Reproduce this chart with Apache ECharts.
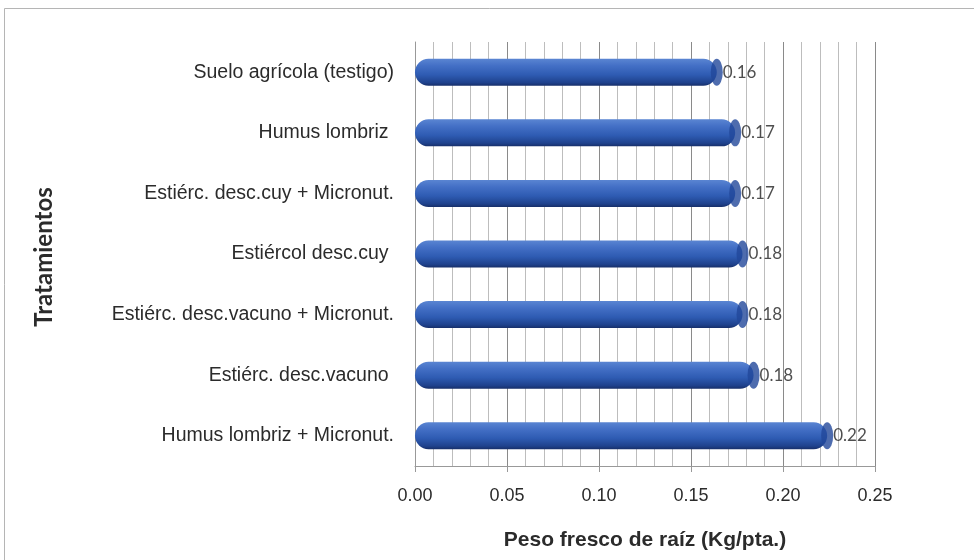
<!DOCTYPE html>
<html>
<head>
<meta charset="utf-8">
<script src="https://cdn.jsdelivr.net/npm/echarts@6/dist/echarts.min.js"></script>
<style>
html,body{margin:0;padding:0;background:#fff;}
#c{width:974px;height:560px;}
</style>
</head>
<body>
<div id="c"></div>
<script>
var categories = [
  "Humus lombriz + Micronut.",
  "Estiérc. desc.vacuno ",
  "Estiérc. desc.vacuno + Micronut.",
  "Estiércol desc.cuy ",
  "Estiérc. desc.cuy + Micronut.",
  "Humus lombriz ",
  "Suelo agrícola (testigo)"
];
var values = [0.224, 0.184, 0.178, 0.178, 0.174, 0.174, 0.164];
var xTicks = [0, 0.05, 0.10, 0.15, 0.20, 0.25];
var xTitle = "Peso fresco de raíz (Kg/pta.)";
var yTitle = "Tratamientos";

var sans = "'Liberation Sans', Arial, sans-serif";
var chart = echarts.init(document.getElementById('c'), null, {renderer: 'canvas'});
var option = {
  backgroundColor: '#ffffff',
  animation: false,
  graphic: [
    {type: 'rect', shape: {x: 4.5, y: 8.5, width: 980, height: 560}, style: {fill: 'none', stroke: '#b5b5b5', lineWidth: 1}},
    {type: 'text', x: 44, y: 257, rotation: Math.PI/2, style: {text: yTitle, font: "bold 24px Lato, 'Open Sans', sans-serif", fill: '#2b2b2b', textAlign: 'center', textVerticalAlign: 'middle'}}
  ],
  grid: {left: 415, right: 99, top: 42, bottom: 94, containLabel: false},
  xAxis: {
    type: 'value', min: xTicks[0], max: xTicks[xTicks.length-1], interval: 0.05,
    name: xTitle, nameLocation: 'middle', nameGap: 64,
    nameTextStyle: {fontFamily: sans, fontWeight: 'bold', fontSize: 21, color: '#2b2b2b'},
    axisLabel: {formatter: function(v){return v.toFixed(2);}, fontFamily: sans, fontSize: 18, color: '#2b2b2b', margin: 21},
    axisLine: {show: true, lineStyle: {color: '#999'}},
    axisTick: {show: true, length: 6, lineStyle: {color: '#999'}},
    splitLine: {show: true, lineStyle: {color: '#8a8a8a', width: 1}},
    minorTick: {show: false, splitNumber: 5},
    minorSplitLine: {show: true, lineStyle: {color: '#bdbdbd', width: 1}}
  },
  yAxis: {
    type: 'category', data: categories,
    axisLabel: {fontFamily: sans, fontSize: 19.5, color: '#2b2b2b', margin: 21},
    axisLine: {show: true, lineStyle: {color: '#999'}},
    axisTick: {show: false}
  },
  series: [
    {
      type: 'bar', data: values, barWidth: 27,
      itemStyle: {
        borderRadius: 13.5,
        color: new echarts.graphic.LinearGradient(0, 0, 0, 1, [
          {offset: 0, color: '#5a85d2'},
          {offset: 0.25, color: '#4470c6'},
          {offset: 0.6, color: '#2e5bb2'},
          {offset: 0.88, color: '#1f428d'},
          {offset: 1, color: '#172f6a'}
        ])
      },
      label: {show: false}
    },
    {
      type: 'scatter', data: values.map(function(v, i){return [v, i];}),
      symbol: 'circle', symbolSize: [12, 27], z: 3,
      itemStyle: {color: '#22479a'},
      label: {
        show: true, position: 'right', distance: 0,
        formatter: function(p){return p.value[0].toFixed(2);},
        fontFamily: "Lato, 'Open Sans', sans-serif", fontSize: 17, color: '#222'
      }
    }
  ]
};
chart.setOption(option);
</script>
</body>
</html>
